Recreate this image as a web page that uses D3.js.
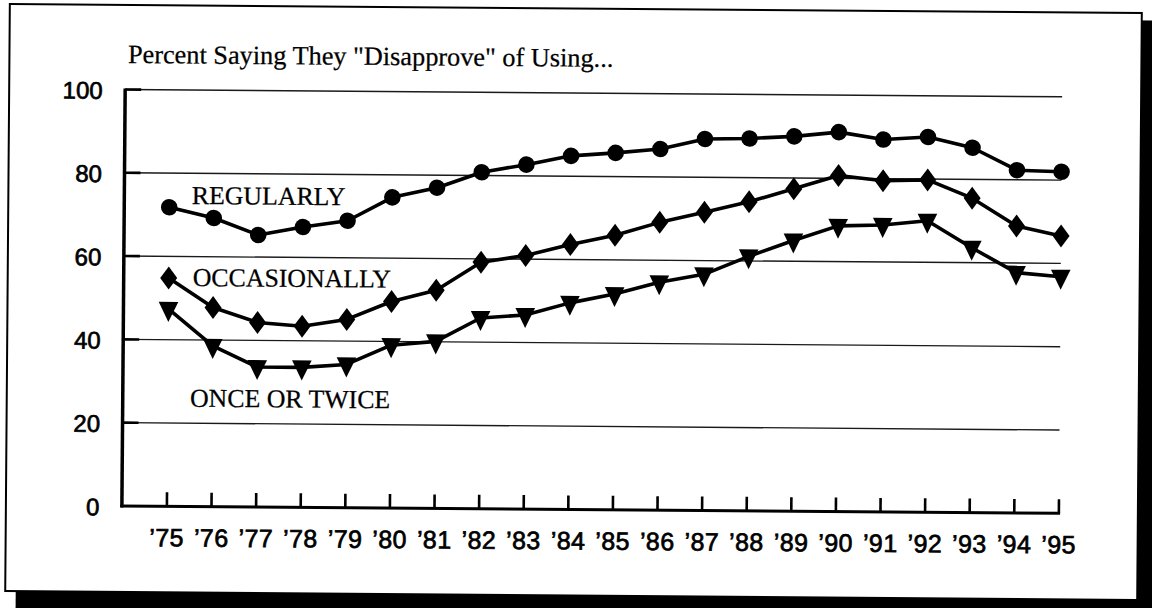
<!DOCTYPE html>
<html>
<head>
<meta charset="utf-8">
<script src="https://cdn.jsdelivr.net/npm/d3@7"></script>
<style>
  html, body { margin: 0; padding: 0; background: #fff; }
  svg { display: block; }
</style>
</head>
<body>
<svg id="chart" width="1152" height="608"></svg>
<script>
// ---- data ----
const years = [1975,1976,1977,1978,1979,1980,1981,1982,1983,1984,1985,1986,1987,1988,1989,1990,1991,1992,1993,1994,1995];
const yearLabels = ["’75","’76","’77","’78","’79","’80","’81","’82","’83","’84","’85","’86","’87","’88","’89","’90","’91","’92","’93","’94","’95"];
const regularly    = [71.8, 69.3, 65.3, 67.3, 68.9, 74.6, 77.0, 80.8, 82.7, 84.9, 85.7, 86.7, 89.2, 89.4, 90.0, 91.1, 89.4, 90.1, 87.6, 82.3, 82.0];
const occasionally = [54.8, 47.8, 44.3, 43.5, 45.2, 49.6, 52.4, 59.2, 60.9, 63.6, 65.9, 69.1, 71.6, 74.2, 77.4, 80.7, 79.5, 79.8, 75.5, 68.9, 66.6];
const onceOrTwice  = [47.4, 38.6, 33.6, 33.6, 34.4, 39.1, 40.1, 45.8, 46.6, 49.6, 51.8, 54.7, 56.7, 61.1, 65.0, 68.6, 68.9, 70.0, 63.6, 57.7, 56.8];
const yTicks = [0, 20, 40, 60, 80, 100];
const titleText = "Percent Saying They \"Disapprove\" of Using...";
const seriesNames = ["REGULARLY", "OCCASIONALLY", "ONCE OR TWICE"];

// ---- scales ----
const x = d3.scaleLinear().domain([1975, 1995]).range([168.5, 1060.5]);
const y = d3.scaleLinear().domain([0, 100]).range([509.5, 93]);

const svg = d3.select("#chart");
const root = svg.append("g").attr("transform", "rotate(0.45 576 304)");

// frame with drop shadow
root.append("rect").attr("x", 18).attr("y", 16).attr("width", 1160).attr("height", 620).attr("fill", "#000");
root.append("rect").attr("x", 7.5).attr("y", 8.5).attr("width", 1132).attr("height", 587)
  .attr("fill", "#fff").attr("stroke", "#000").attr("stroke-width", 2);

const axisX0 = 123.5;
const gridEnd = x(1995);

// gridlines
root.append("g").selectAll("line.grid").data(yTicks.filter(d => d > 0)).join("line")
  .attr("x1", axisX0).attr("x2", gridEnd)
  .attr("y1", d => y(d)).attr("y2", d => y(d))
  .attr("stroke", "#1a1a1a").attr("stroke-width", 1.4);
// inner y ticks (stubs)
root.append("g").selectAll("line.ytick").data(yTicks.filter(d => d > 0)).join("line")
  .attr("x1", axisX0).attr("x2", axisX0 + 16)
  .attr("y1", d => y(d)).attr("y2", d => y(d))
  .attr("stroke", "#000").attr("stroke-width", 2.6);

// y labels
root.append("g").selectAll("text.ylab").data(yTicks).join("text")
  .attr("x", 101).attr("y", d => y(d) + 9.5)
  .attr("text-anchor", "end")
  .attr("font-family", "'Liberation Sans', Arial, sans-serif")
  .attr("font-size", 24)
  .attr("fill", "#000").attr("stroke", "#000").attr("stroke-width", 0.7)
  .text(d => d);

// x axis line
root.append("line").attr("x1", axisX0 - 1.5).attr("x2", gridEnd + 1.2)
  .attr("y1", y(0)).attr("y2", y(0)).attr("stroke", "#000").attr("stroke-width", 3);
// x ticks
root.append("g").selectAll("line.xtick").data(years).join("line")
  .attr("x1", d => x(d)).attr("x2", d => x(d))
  .attr("y1", y(0)).attr("y2", y(0) - 14)
  .attr("stroke", "#000").attr("stroke-width", 2.6);
// y axis line
root.append("line").attr("x1", axisX0).attr("x2", axisX0)
  .attr("y1", y(100) - 1).attr("y2", y(0) + 1.5).attr("stroke", "#000").attr("stroke-width", 3.5);

// x labels
root.append("g").selectAll("text.xlab").data(years).join("text")
  .attr("x", d => x(d)).attr("y", y(0) + 40)
  .attr("text-anchor", "middle")
  .attr("font-family", "'Liberation Sans', Arial, sans-serif")
  .attr("font-size", 25)
  .attr("letter-spacing", 0.4)
  .attr("fill", "#000").attr("stroke", "#000").attr("stroke-width", 0.7)
  .text((d, i) => yearLabels[i]);

// title
root.append("text").attr("x", 126).attr("y", 66.5)
  .attr("font-family", "'Liberation Serif', 'Times New Roman', serif")
  .attr("font-size", 26.3).attr("fill", "#000").attr("stroke", "#000").attr("stroke-width", 0.25)
  .text(titleText);

// series
const line = d3.line().x((d, i) => x(years[i])).y(d => y(d));
const seriesData = [regularly, occasionally, onceOrTwice];
const markerPaths = [
  null,
  "M0,-11.5L8.5,0L0,11.5L-8.5,0Z",
  "M-9.8,-7L9.8,-7L0,13Z"
];
seriesData.forEach((vals, si) => {
  root.append("path").datum(vals).attr("d", line)
    .attr("fill", "none").attr("stroke", "#000").attr("stroke-width", 3.6)
    .attr("stroke-linejoin", "round");
  const g = root.append("g");
  if (si === 0) {
    g.selectAll("circle").data(vals).join("circle")
      .attr("cx", (d, i) => x(years[i])).attr("cy", d => y(d)).attr("r", 8.3).attr("fill", "#000");
  } else {
    g.selectAll("path").data(vals).join("path")
      .attr("d", markerPaths[si])
      .attr("transform", (d, i) => `translate(${x(years[i])},${y(d)})`)
      .attr("fill", "#000");
  }
});

// series labels
const labelPos = [[191, 207], [192.6, 289], [190.8, 409.7]];
root.append("g").selectAll("text.slab").data(seriesNames).join("text")
  .attr("x", (d, i) => labelPos[i][0]).attr("y", (d, i) => labelPos[i][1])
  .attr("font-family", "'Liberation Serif', 'Times New Roman', serif")
  .attr("font-size", 25.8).attr("fill", "#000").attr("stroke", "#000").attr("stroke-width", 0.25)
  .text(d => d);
</script>
</body>
</html>
